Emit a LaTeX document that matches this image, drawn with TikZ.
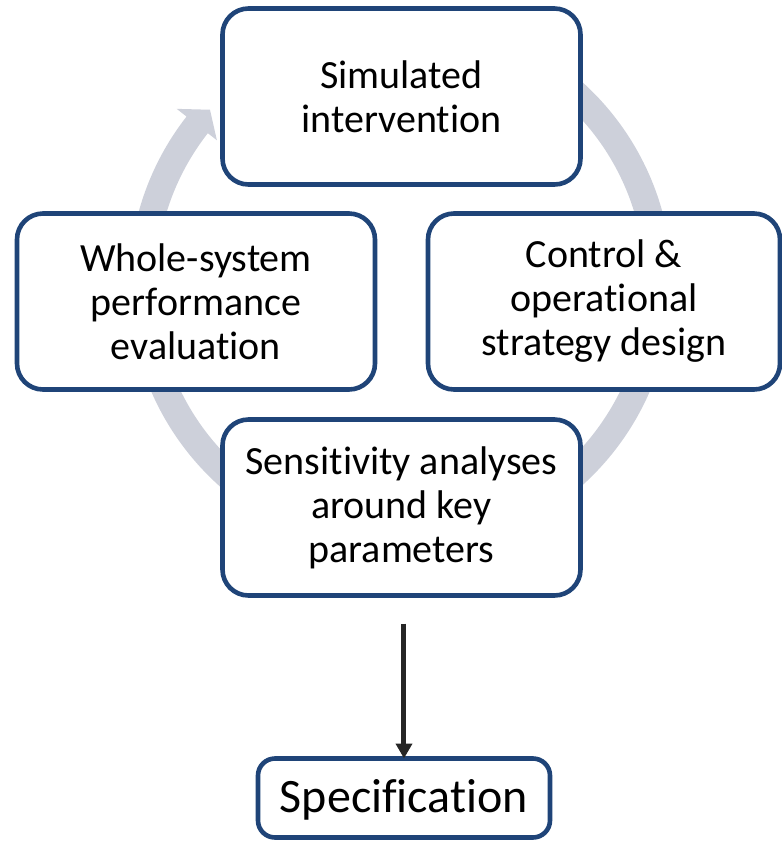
\documentclass[tikz,border=0pt]{standalone}
\usepackage{fontspec}
\setmainfont{Carlito}[RawFeature={-liga;-clig;-calt;-dlig}]
\usetikzlibrary{arrows.meta, positioning, calc, backgrounds}

\definecolor{stageblue}{RGB}{31,68,120}
\definecolor{ringgray}{RGB}{205,208,218}
\definecolor{flowgray}{RGB}{38,38,38}

\begin{document}
\begin{tikzpicture}[
                font=\fontsize{20}{22}\selectfont,
                >={Triangle[length=7.5pt, width=8pt]},
                node distance=14.5pt and 25pt,
                stage/.style={
                        draw=stageblue, rounded corners=13pt, line width=2.3pt,
                        minimum width=179pt,
                        minimum height=88pt,
                        align=center, fill=white, inner sep=2pt, outer sep=0pt
                    },
                specbox/.style={
                        draw=stageblue, rounded corners=8.5pt, line width=2.3pt,
                        minimum width=146pt,
                        minimum height=39.5pt, outer sep=0pt,
                        fill=white, font=\fontsize{24}{26}\selectfont
                    },
                loopring/.style={fill=ringgray},
                arr/.style={->, line width=2.5pt, flowgray},
                ]

                % page frame of the figure
                \useasboundingbox (-200.75pt,48.25pt) rectangle (190.25pt,-373.25pt);

                \node[stage] (sim) {Simulated\\intervention};
                \node[stage, below=of sim.south, xshift=-102.75pt] (whole) {Whole-system\\performance\\evaluation};
                \node[stage, below=of sim.south, xshift=101.25pt, minimum width=176pt] (ctrl) {Control \&\\operational\\strategy design};
                \node[stage, below=117.5pt of sim] (sens) {Sensitivity analyses\\around key\\parameters};
                \node[specbox, below=81.5pt of sens, xshift=1.25pt, text depth=2pt] (spec) {Specification};

                \coordinate[below=14pt of sens.south] (handoff);
                \coordinate (hub) at ([shift={(-0.5pt,-93.6pt)}]sim.center);

                % grey cycle arrow behind the boxes
                \begin{scope}[on background layer, shift={(hub)}]
                    \fill[loopring] (90:135.75pt) arc[start angle=90, end angle=-218, radius=135.75pt]
                        -- (-218:142pt) -- (-222.4:129pt) -- (-218:116.5pt)
                        -- (-218:122.25pt) arc[start angle=-218, end angle=90, radius=122.25pt] -- cycle;
                \end{scope}

                \draw[arr] (handoff -| spec.north) -- (spec.north);
            \end{tikzpicture}
\end{document}
